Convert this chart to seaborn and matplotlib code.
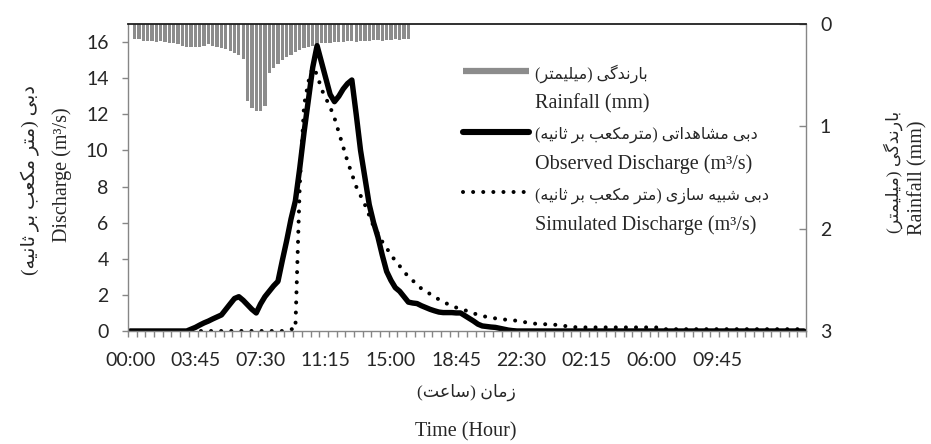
import numpy as np
import pandas as pd
import matplotlib
matplotlib.use("Agg")
import matplotlib.pyplot as plt
from matplotlib.lines import Line2D
import seaborn as sns

# ---------------- data (15-minute steps) ----------------
tick_labels = ["00:00", "03:45", "07:30", "11:15", "15:00",
               "18:45", "22:30", "02:15", "06:00", "09:45"]
label_every = 15          # one label every 15 steps (3:45 h)
y_ticks = [0, 2, 4, 6, 8, 10, 12, 14, 16]
y2_ticks = [0, 1, 2, 3]

rainfall_mm = [
    0.00, 0.15, 0.15, 0.17, 0.17, 0.17, 0.18, 0.17, 0.18, 0.19,
    0.19, 0.20, 0.21, 0.22, 0.22, 0.22, 0.22, 0.21, 0.20, 0.21,
    0.22, 0.23, 0.24, 0.26, 0.28, 0.30, 0.34, 0.75, 0.82, 0.85,
    0.85, 0.80, 0.48, 0.43, 0.39, 0.35, 0.32, 0.30, 0.27, 0.25,
    0.23, 0.22, 0.21, 0.20, 0.19, 0.19, 0.19, 0.18, 0.18, 0.18,
    0.17, 0.17, 0.18, 0.17, 0.17, 0.17, 0.16, 0.16, 0.17, 0.16,
    0.16, 0.15, 0.16, 0.15, 0.15,
]

observed = [
    0, 0, 0, 0, 0, 0, 0, 0, 0, 0,
    0, 0, 0, 0, 0.10, 0.20, 0.33, 0.45, 0.55, 0.67,
    0.78, 0.89, 1.20, 1.50, 1.80, 1.90, 1.70, 1.45, 1.20, 1.00,
    1.50, 1.90, 2.20, 2.50, 2.75, 3.90, 5.00, 6.20, 7.20, 9.00,
    11.0, 12.8, 14.6, 15.8, 14.9, 14.0, 13.1, 12.7, 13.0, 13.4,
    13.7, 13.9, 12.0, 10.0, 8.5, 7.0, 6.0, 5.2, 4.2, 3.3,
    2.8, 2.4, 2.2, 1.9, 1.6, 1.55, 1.52, 1.40, 1.30, 1.20,
    1.12, 1.05, 1.02, 1.02, 1.02, 1.00, 1.00, 0.85, 0.70, 0.55,
    0.38, 0.28, 0.25, 0.22, 0.20, 0.15, 0.10, 0.05, 0.02, 0,
    0, 0, 0, 0, 0, 0, 0, 0, 0, 0,
    0, 0, 0, 0, 0, 0, 0, 0, 0, 0,
    0, 0, 0, 0, 0, 0, 0, 0, 0, 0,
    0, 0, 0, 0, 0, 0, 0, 0, 0, 0,
    0, 0, 0, 0, 0, 0, 0, 0, 0, 0,
    0, 0, 0, 0, 0, 0, 0, 0, 0, 0,
    0, 0, 0, 0, 0, 0,
]

simulated = [
    0, 0, 0, 0, 0, 0, 0, 0, 0, 0,
    0, 0, 0, 0, 0, 0, 0, 0, 0, 0,
    0, 0, 0, 0, 0, 0, 0, 0, 0, 0,
    0, 0, 0, 0, 0, 0, 0.05, 0.10, 0.10, 8.0,
    12.5, 13.8, 14.6, 14.2, 13.4, 12.9, 12.4, 11.8, 11.0, 10.2,
    9.4, 8.7, 8.0, 7.5, 7.0, 6.4, 5.8, 5.4, 4.95, 4.6,
    4.2, 3.9, 3.6, 3.3, 3.0, 2.8, 2.55, 2.35, 2.2, 2.05,
    1.9, 1.75, 1.62, 1.5, 1.4, 1.3, 1.22, 1.15, 1.07, 0.98,
    0.9, 0.84, 0.78, 0.74, 0.7, 0.67, 0.64, 0.61, 0.59, 0.57,
    0.53, 0.48, 0.44, 0.41, 0.39, 0.38, 0.37, 0.36, 0.34, 0.32,
    0.28, 0.24, 0.22, 0.2, 0.2, 0.2, 0.2, 0.2, 0.2, 0.2,
    0.2, 0.2, 0.2, 0.2, 0.2, 0.2, 0.2, 0.2, 0.2, 0.2,
    0.2, 0.2, 0.1, 0.1, 0.1, 0.1, 0.1, 0.1, 0.1, 0.1,
    0.1, 0.1, 0.1, 0.1, 0.1, 0.1, 0.1, 0.1, 0.1, 0.1,
    0.1, 0.1, 0.1, 0.1, 0.1, 0.1, 0.1, 0.1, 0.1, 0.1,
    0.1, 0.1, 0.1, 0.1, 0.1, 0.1,
]

txt_rain_fa = "بارندگی (میلیمتر)"
txt_obs_fa = "دبی مشاهداتی (مترمکعب بر ثانیه)"
txt_sim_fa = "دبی شبیه سازی (متر مکعب بر ثانیه)"
txt_y_fa = "دبی (متر مکعب بر ثانیه)"
txt_x_fa = "زمان (ساعت)"
txt_y2_fa = "بارندگی (میلیمتر)"
txt_rain_en = "Rainfall (mm)"
txt_obs_en = "Observed Discharge (m\u00b3/s)"
txt_sim_en = "Simulated Discharge (m\u00b3/s)"
txt_y_en = "Discharge (m\u00b3/s)"
txt_x_en = "Time (Hour)"
txt_y2_en = "Rainfall (mm)"

# ---------------- simple Persian shaping (presentation forms, visual order) ----------------
_F = {
    "\u0627": ("\uFE8D", "\uFE8E", None, None),
    "\u0628": ("\uFE8F", "\uFE90", "\uFE91", "\uFE92"),
    "\u062A": ("\uFE95", "\uFE96", "\uFE97", "\uFE98"),
    "\u062B": ("\uFE99", "\uFE9A", "\uFE9B", "\uFE9C"),
    "\u062F": ("\uFEA9", "\uFEAA", None, None),
    "\u0631": ("\uFEAD", "\uFEAE", None, None),
    "\u0632": ("\uFEAF", "\uFEB0", None, None),
    "\u0633": ("\uFEB1", "\uFEB2", "\uFEB3", "\uFEB4"),
    "\u0634": ("\uFEB5", "\uFEB6", "\uFEB7", "\uFEB8"),
    "\u0639": ("\uFEC9", "\uFECA", "\uFECB", "\uFECC"),
    "\u06A9": ("\uFB8E", "\uFB8F", "\uFB90", "\uFB91"),
    "\u0643": ("\uFB8E", "\uFB8F", "\uFB90", "\uFB91"),
    "\u06AF": ("\uFB92", "\uFB93", "\uFB94", "\uFB95"),
    "\u0644": ("\uFEDD", "\uFEDE", "\uFEDF", "\uFEE0"),
    "\u0645": ("\uFEE1", "\uFEE2", "\uFEE3", "\uFEE4"),
    "\u0646": ("\uFEE5", "\uFEE6", "\uFEE7", "\uFEE8"),
    "\u0647": ("\uFEE9", "\uFEEA", "\uFEEB", "\uFEEC"),
    "\u06CC": ("\uFBFC", "\uFBFD", "\uFBFE", "\uFBFF"),
    "\u064A": ("\uFBFC", "\uFBFD", "\uFBFE", "\uFBFF"),
}


def shape(s):
    out = []
    for i, c in enumerate(s):
        if c not in _F:
            out.append(c)
            continue
        prev = s[i - 1] if i > 0 else ""
        nxt = s[i + 1] if i + 1 < len(s) else ""
        jp = prev in _F and _F[prev][2] is not None
        jn = nxt in _F and _F[c][2] is not None
        iso, fin, ini, med = _F[c]
        out.append(med if (jp and jn) else fin if jp else ini if jn else iso)
    mirror = {"(": ")", ")": "("}
    return "".join(mirror.get(c, c) for c in reversed(out))


# ---------------- figure ----------------
sns.set_style("white")
plt.rcParams["font.family"] = ["Lato", "DejaVu Sans"]
SERIF = ["Liberation Serif", "DejaVu Sans"]
GRAY = "#868686"

N = len(observed)
df = pd.DataFrame({"step": np.arange(N), "observed": observed, "simulated": simulated})
rain_df = pd.DataFrame({"step": np.arange(len(rainfall_mm)), "rain": rainfall_mm})

fig = plt.figure(figsize=(9.31, 4.44), dpi=100)
ax = fig.add_axes([0.1375, 0.2545, 0.7283, 0.6914])
ax2 = ax.twinx()

sns.barplot(data=rain_df, x="step", y="rain", native_scale=True, width=0.75,
            color="#8c8c8c", saturation=1, linewidth=0, ax=ax2)
sns.lineplot(data=df, x="step", y="observed", ax=ax, color="black", lw=3.9,
             solid_joinstyle="round", solid_capstyle="round")
sns.lineplot(data=df, x="step", y="simulated", ax=ax, color="black", lw=2.9,
             linestyle=(0, (0.01, 2.5)), dash_capstyle="round")

ax.set_zorder(ax2.get_zorder() + 1)
ax.patch.set_visible(False)

ax.set_xlim(-0.5, N - 0.5)
ax.set_ylim(0, 17)
ax2.set_ylim(3, 0)

ax.set_xticks([i * label_every for i in range(len(tick_labels))])
ax.set_xticklabels(tick_labels)
ax.set_xticks(np.arange(-0.5, N, 2), minor=True)
ax.set_yticks(y_ticks)
ax2.set_yticks(y2_ticks)

ax.tick_params(axis="x", which="major", length=0, pad=15, labelsize=14, bottom=True)
ax.tick_params(axis="x", which="minor", length=4.5, width=1, color=GRAY,
               direction="out", bottom=True)
ax.tick_params(axis="y", length=4, width=1, color=GRAY, direction="out",
               pad=10, labelsize=14, left=True)
ax2.tick_params(axis="y", length=5, width=1, color=GRAY, direction="in",
                pad=10, labelsize=14, right=True)

for side in ["left", "bottom"]:
    ax.spines[side].set_color(GRAY)
    ax.spines[side].set_linewidth(1.0)
ax.spines["top"].set_color("#202020")
ax.spines["top"].set_linewidth(1.3)
ax.spines["right"].set_visible(False)
for side in ["left", "top", "bottom"]:
    ax2.spines[side].set_visible(False)
ax2.spines["right"].set_color(GRAY)
ax2.spines["right"].set_linewidth(1.0)

ax.set_xlabel("")
ax.set_ylabel("")
ax2.set_ylabel("")

# legend: handle on Persian line, English line below
h_rain = Line2D([], [], color="#8c8c8c", lw=4.5, solid_capstyle="butt")
h_obs = Line2D([], [], color="black", lw=4.4, solid_capstyle="round")
h_sim = Line2D([], [], color="black", lw=2.9, linestyle=(0, (0.01, 2.5)),
               dash_capstyle="round")
blank = Line2D([], [], linestyle="none")
leg = ax.legend(handles=[h_rain, blank, h_obs, blank, h_sim, blank],
                labels=[shape(txt_rain_fa), txt_rain_en, shape(txt_obs_fa), txt_obs_en,
                        shape(txt_sim_fa), txt_sim_en],
                loc="upper left", bbox_to_anchor=(0.494, 0.870), frameon=False,
                borderpad=0, borderaxespad=0, handlelength=3.3, handletextpad=0.3,
                labelspacing=0.56, prop={"family": SERIF, "size": 14.5})
for k, t in enumerate(leg.get_texts()):
    if k % 2 == 0:
        t.set_fontsize(11.5)

# axis titles
fig.text(30 / 931, 1 - 180 / 444, shape(txt_y_fa), rotation=90, ha="center", va="center",
         family=SERIF, fontsize=14)
fig.text(62 / 931, 1 - 175 / 444, txt_y_en, rotation=90, ha="center", va="center",
         family=SERIF, fontsize=14.5)
fig.text(893 / 931, 1 - 172 / 444, shape(txt_y2_fa), rotation=90, ha="center", va="center",
         family=SERIF, fontsize=12.5)
fig.text(918 / 931, 1 - 178 / 444, txt_y2_en, rotation=90, ha="center", va="center",
         family=SERIF, fontsize=14.5)
fig.text(466 / 931, 1 - 392 / 444, shape(txt_x_fa), ha="center", va="center",
         family=SERIF, fontsize=12.5)
fig.text(466 / 931, 1 - 432 / 444, txt_x_en, ha="center", va="center",
         family=SERIF, fontsize=14.5)

fig.savefig("out.png", dpi=100, facecolor="white")
